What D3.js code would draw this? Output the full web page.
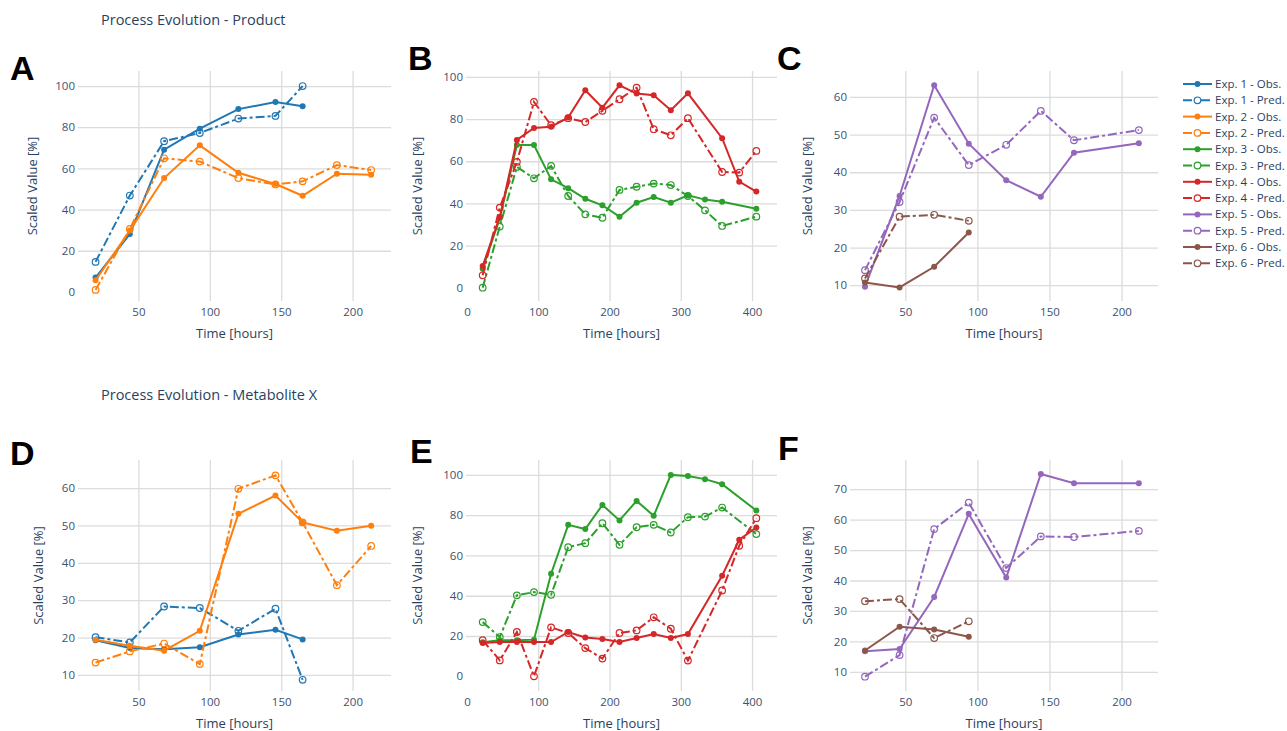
<!DOCTYPE html>
<html>
<head>
<meta charset="utf-8">
<script src="https://cdn.jsdelivr.net/npm/d3@7"></script>
<style>
  body { margin: 0; background: #fff; }
  svg text { font-family: "Open Sans", "DejaVu Sans", sans-serif; fill: #2a3f5f; }
  .grid line { stroke: #dcdcdc; stroke-width: 1.3; }
  .grid path { display: none; }
  .axis path { display: none; }
  .axis text { fill: #3d5170; }
  .letter { font-family: "Liberation Sans", Arial, sans-serif !important; font-weight: bold; fill: #000 !important; }
</style>
</head>
<body>
<div id="chart"></div>
<script>

//--------------------------------------------------------------------------
//
// data
//

// sampling times [hours]
var timeAD = [20, 44, 68, 93, 120, 146, 165, 189, 213];
var timeBE = [22, 46, 70, 94, 118, 142, 166, 190, 214, 238, 262, 286, 310, 334, 358, 382, 406];
var timeCF = [22, 46, 70, 94, 120, 144, 167, 212];

// product (A, B, C)
var productExp1Obs  = [7.0, 28.1, 69.1, 79.3, 88.8, 92.2, 90.2];
var productExp1Pred = [14.6, 46.8, 73.2, 77.2, 84.2, 85.5, 100];
var productExp2Obs  = [5.7, 29.8, 55.3, 71.2, 57.9, 52.4, 46.7, 57.4, 56.9];
var productExp2Pred = [1.0, 30.6, 64.9, 63.3, 55.3, 52.2, 53.7, 61.6, 59.2];
var productExp3Obs  = [9, 33, 67.7, 67.7, 51.4, 47.2, 42.2, 39.1, 33.7, 40.3, 43.0, 40.3, 43.8, 41.8, 40.8, null, 37.5];
var productExp3Pred = [0, 29, 57.3, 51.9, 57.8, 43.5, 34.8, 33.2, 46.4, 47.9, 49.4, 48.7, 43.5, 36.7, 29.3, null, 33.7];
var productExp4Obs  = [10.3, 33.5, 70.1, 75.8, 76.3, 80.7, 93.7, 85.4, 96.0, 92.1, 91.3, 84.2, 92.2, null, 70.9, 50.3, 45.6];
var productExp4Pred = [5.9, 38, 59.7, 88.1, 77.1, 80.4, 78.6, 83.9, 89.4, 94.9, 75.2, 72.3, 80.4, null, 54.9, 54.6, 64.9];
var productExp5Obs  = [9.6, 33.7, 63.1, 47.6, 37.9, 33.5, 45.2, 47.7];
var productExp5Pred = [14.0, 32.1, 54.5, 41.9, 47.3, 56.3, 48.5, 51.2];
var productExp6Obs  = [10.7, 9.4, 14.9, 24.0];
var productExp6Pred = [11.8, 28.2, 28.7, 27.1];

// metabolite X (D, E, F)
var metabExp1Obs  = [19.3, 17.2, 16.9, 17.4, 20.8, 22.1, 19.5];
var metabExp1Pred = [20.1, 18.7, 28.3, 27.9, 21.8, 27.7, 8.7];
var metabExp2Obs  = [19.4, 17.8, 16.5, 21.8, 53.1, 58.0, 50.8, 48.6, 49.9];
var metabExp2Pred = [13.3, 16.3, 18.4, 12.9, 59.8, 63.4, 50.8, 34.0, 44.5];
var metabExp3Obs  = [16.9, 17.9, 17.9, 18.2, 50.9, 75.2, 73.1, 85.1, 77.4, 87.1, 79.7, 100, 99.5, 97.9, 95.4, null, 82.3];
var metabExp3Pred = [26.9, 19.5, 40.2, 41.8, 40.5, 64.1, 66.1, 76.0, 65.3, 74.0, 75.2, 71.4, 79.0, 79.3, 83.8, null, 70.6];
var metabExp4Obs  = [16.5, 17.0, 17.0, 17.0, 17.0, 22.0, 19.3, 18.5, 17.0, 19.0, 21.0, 19.0, 21.0, null, 49.9, 67.8, 73.9];
var metabExp4Pred = [17.9, 7.9, 22.0, 0, 24.3, 21.5, 14.0, 8.8, 21.5, 22.8, 29.3, 23.6, 7.8, null, 42.6, 64.8, 78.5];
var metabExp5Obs  = [16.8, 17.5, 34.6, 61.9, 41.0, 75.0, 72.0, 72.0];
var metabExp5Pred = [8.4, 15.5, 56.9, 65.6, 44.1, 54.5, 54.3, 56.3];
var metabExp6Obs  = [17.0, 24.8, 23.9, 21.5];
var metabExp6Pred = [33.2, 33.9, 21.1, 26.6];

// tick labels
var ticksTime200 = [50, 100, 150, 200];
var ticksTime400 = [0, 100, 200, 300, 400];
var ticksY100 = [0, 20, 40, 60, 80, 100];
var ticksY60 = [10, 20, 30, 40, 50, 60];
var ticksY70 = [10, 20, 30, 40, 50, 60, 70];

var expColors = ["#1f77b4", "#ff7f0e", "#2ca02c", "#d62728", "#9467bd", "#8c564b"];
var legendLabels = ["Exp. 1 - Obs.", "Exp. 1 - Pred.", "Exp. 2 - Obs.", "Exp. 2 - Pred.",
                    "Exp. 3 - Obs.", "Exp. 3 - Pred.", "Exp. 4 - Obs.", "Exp. 4 - Pred.",
                    "Exp. 5 - Obs.", "Exp. 5 - Pred.", "Exp. 6 - Obs.", "Exp. 6 - Pred."];

//--------------------------------------------------------------------------
//
// layout
//

var outerWidth = 1287,
    outerHeight = 731;

function trace(exp, pred, t, v) {
    return {exp: exp, pred: pred, points: t.map(function (d, i) { return {t: d, v: v[i]}; })
                                          .filter(function (d) { return d.v != null; })};
}

var panels = [
    {letter: "A", lx: 10, ly: 80, x: 78, y: 71, w: 313, h: 230, xDomain: [7.7, 226.9], yDomain: [-4.4, 107.3],
     xTicks: ticksTime200, yTicks: ticksY100, yTitleX: 32,
     traces: [trace(0, false, timeAD, productExp1Obs), trace(0, true, timeAD, productExp1Pred),
              trace(1, false, timeAD, productExp2Obs), trace(1, true, timeAD, productExp2Pred)]},
    {letter: "B", lx: 408, ly: 70, x: 466, y: 71, w: 311, h: 230, xDomain: [-1.4, 435], yDomain: [-6.3, 102.8],
     xTicks: ticksTime400, yTicks: ticksY100, yTitleX: 417,
     traces: [trace(2, false, timeBE, productExp3Obs), trace(2, true, timeBE, productExp3Pred),
              trace(3, false, timeBE, productExp4Obs), trace(3, true, timeBE, productExp4Pred)]},
    {letter: "C", lx: 777, ly: 70, x: 850, y: 71, w: 308, h: 230, xDomain: [11.6, 225.3], yDomain: [5.8, 66.9],
     xTicks: ticksTime200, yTicks: ticksY60, yTitleX: 807,
     traces: [trace(4, false, timeCF, productExp5Obs), trace(4, true, timeCF, productExp5Pred),
              trace(5, false, timeCF, productExp6Obs), trace(5, true, timeCF, productExp6Pred)]},
    {letter: "D", lx: 10, ly: 465, x: 78, y: 460, w: 313, h: 231, xDomain: [7.7, 226.9], yDomain: [5.7, 67.5],
     xTicks: ticksTime200, yTicks: ticksY60, yTitleX: 38,
     traces: [trace(0, false, timeAD, metabExp1Obs), trace(0, true, timeAD, metabExp1Pred),
              trace(1, false, timeAD, metabExp2Obs), trace(1, true, timeAD, metabExp2Pred)]},
    {letter: "E", lx: 410, ly: 463, x: 466, y: 460, w: 311, h: 231, xDomain: [-1.4, 435], yDomain: [-7.3, 107.4],
     xTicks: ticksTime400, yTicks: ticksY100, yTitleX: 417,
     traces: [trace(2, false, timeBE, metabExp3Obs), trace(2, true, timeBE, metabExp3Pred),
              trace(3, false, timeBE, metabExp4Obs), trace(3, true, timeBE, metabExp4Pred)]},
    {letter: "F", lx: 778, ly: 460, x: 850, y: 460, w: 308, h: 231, xDomain: [11.6, 225.3], yDomain: [3.7, 79.6],
     xTicks: ticksTime200, yTicks: ticksY70, yTitleX: 807,
     traces: [trace(4, false, timeCF, metabExp5Obs), trace(4, true, timeCF, metabExp5Pred),
              trace(5, false, timeCF, metabExp6Obs), trace(5, true, timeCF, metabExp6Pred)]}
];

var svg = d3.select("#chart").append("svg")
    .attr("width", outerWidth)
    .attr("height", outerHeight);

// section titles
svg.append("text").attr("x", 101).attr("y", 25)
    .style("font-size", "14.5px").text("Process Evolution - Product");
svg.append("text").attr("x", 101).attr("y", 400)
    .style("font-size", "14.5px").text("Process Evolution - Metabolite X");

//--------------------------------------------------------------------------
//
// panels
//

panels.forEach(function (p) {

    var x = d3.scaleLinear().domain(p.xDomain).range([0, p.w]),
        y = d3.scaleLinear().domain(p.yDomain).range([p.h, 0]);

    var g = svg.append("g")
        .attr("transform", "translate(" + p.x + "," + p.y + ")");

    // grid (no zero line)
    g.append("g").attr("class", "grid")
        .attr("transform", "translate(0," + p.h + ")")
        .call(d3.axisBottom(x).tickValues(p.xTicks.filter(function (d) { return d !== 0; }))
            .tickSize(-p.h).tickFormat(""));
    g.append("g").attr("class", "grid")
        .call(d3.axisLeft(y).tickValues(p.yTicks.filter(function (d) { return d !== 0; }))
            .tickSize(-p.w).tickFormat(""));

    // axes
    g.append("g").attr("class", "axis")
        .attr("transform", "translate(0," + p.h + ")")
        .call(d3.axisBottom(x).tickValues(p.xTicks).tickSize(0).tickPadding(7));
    g.append("g").attr("class", "axis")
        .call(d3.axisLeft(y).tickValues(p.yTicks).tickSize(0).tickPadding(3));
    g.selectAll(".axis text").style("font-size", "11.5px").attr("fill", null);

    // axis titles
    g.append("text")
        .attr("x", p.w / 2)
        .attr("y", p.h + 37)
        .attr("text-anchor", "middle")
        .style("font-size", "13px")
        .text("Time [hours]");
    svg.append("text")
        .attr("transform", "translate(" + p.yTitleX + "," + (p.y + p.h / 2) + ") rotate(-90)")
        .attr("text-anchor", "middle")
        .attr("dominant-baseline", "central")
        .style("font-size", "13px")
        .text("Scaled Value [%]");

    // panel letter
    svg.append("text")
        .attr("class", "letter")
        .attr("x", p.lx)
        .attr("y", p.ly)
        .style("font-size", "34px")
        .text(p.letter);

    // traces
    var line = d3.line()
        .x(function (d) { return x(d.t); })
        .y(function (d) { return y(d.v); });

    p.traces.forEach(function (tr) {
        var color = expColors[tr.exp];
        g.append("path")
            .datum(tr.points)
            .attr("d", line)
            .attr("fill", "none")
            .attr("stroke", color)
            .attr("stroke-width", 2)
            .attr("stroke-dasharray", tr.pred ? "9,3,3,3" : null);
        g.selectAll(null)
            .data(tr.points)
            .enter().append("circle")
            .attr("cx", function (d) { return x(d.t); })
            .attr("cy", function (d) { return y(d.v); })
            .attr("r", tr.pred ? 3.3 : 3)
            .attr("fill", tr.pred ? "none" : color)
            .attr("stroke", color)
            .attr("stroke-width", tr.pred ? 1.2 : 0);
    });
});

//--------------------------------------------------------------------------
//
// legend
//

var legend = svg.append("g").attr("transform", "translate(1183,84)");

legendLabels.forEach(function (label, i) {
    var color = expColors[Math.floor(i / 2)],
        pred = i % 2 === 1,
        row = legend.append("g").attr("transform", "translate(0," + (i * 16.3) + ")");
    row.append("line")
        .attr("x1", 0).attr("x2", 29)
        .attr("stroke", color)
        .attr("stroke-width", 2)
        .attr("stroke-dasharray", pred ? "9,3,3,3" : null);
    row.append("circle")
        .attr("cx", 14.5)
        .attr("r", pred ? 3.3 : 3)
        .attr("fill", pred ? "#fff" : color)
        .attr("stroke", color)
        .attr("stroke-width", pred ? 1.2 : 0);
    row.append("text")
        .attr("x", 32)
        .attr("y", 4)
        .style("font-size", "11.5px")
        .text(label);
});

</script>
</body>
</html>
